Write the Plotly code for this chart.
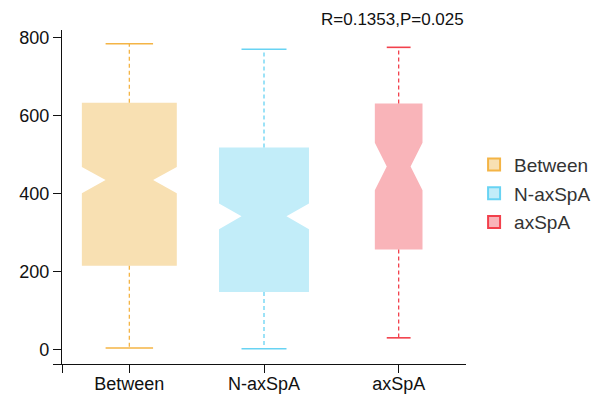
import plotly.graph_objects as go

# ---- data ----
categories = ["Between", "N-axSpA", "axSpA"]
q1 = [215, 148, 257]
median = [435, 342, 470]
q3 = [634, 519, 632]
lowerfence = [4, 2, 30]
upperfence = [785, 771, 776]
notchspan = [33.5, 33, 61]
box_widths = [0.705, 0.668, 0.354]
y_ticks = [0, 200, 400, 600, 800]
annotation_text = "R=0.1353,P=0.025"

fill_colors = ["#F8E0B2", "#C2EDF9", "#F9B4B9"]
line_colors = ["#F4B445", "#68D3F3", "#F2404C"]

y_lo, y_hi = -37.2, 820.5

fig = go.Figure()

for i, cat in enumerate(categories):
    fig.add_trace(go.Box(
        x=[i], q1=[q1[i]], median=[median[i]], q3=[q3[i]],
        lowerfence=[q1[i]], upperfence=[q3[i]],
        notchspan=[notchspan[i]], notched=True, notchwidth=0.25,
        width=box_widths[i], fillcolor=fill_colors[i],
        line=dict(width=0, color=fill_colors[i]),
        whiskerwidth=0, boxpoints=False, showlegend=False, hoverinfo="skip",
    ))

for i, cat in enumerate(categories):
    # dashed whiskers
    fig.add_trace(go.Scatter(
        x=[i, i, None, i, i],
        y=[q3[i], upperfence[i], None, q1[i], lowerfence[i]],
        mode="lines", line=dict(color=line_colors[i], width=1.3, dash="4px,3px"),
        showlegend=False, hoverinfo="skip",
    ))
    # caps
    hw = box_widths[i] / 4
    fig.add_trace(go.Scatter(
        x=[i - hw, i + hw, None, i - hw, i + hw],
        y=[upperfence[i], upperfence[i], None, lowerfence[i], lowerfence[i]],
        mode="lines", line=dict(color=line_colors[i], width=1.6),
        showlegend=False, hoverinfo="skip",
    ))

# legend entries
for i, cat in enumerate(categories):
    fig.add_trace(go.Scatter(
        x=[None], y=[None], mode="markers", name=cat, legendgroup=cat,
        marker=dict(symbol="square", size=14, color=fill_colors[i],
                    line=dict(color=line_colors[i], width=1.5)),
    ))

# page body has an 8px default margin, so the figure is sized to fit the window
fig.update_layout(
    width=593, height=387,
    margin=dict(l=54, r=135, t=22, b=31, autoexpand=False),
    paper_bgcolor="white", plot_bgcolor="white",
    font=dict(family="Liberation Sans, Arial, sans-serif", size=18, color="#111111"),
    legend=dict(x=1.02, xanchor="left", y=0.51, yanchor="middle",
                font=dict(size=19, color="#333333"),
                traceorder="grouped", tracegroupgap=1, itemsizing="constant"),
    annotations=[dict(text=annotation_text, x=1.0, xref="paper", xanchor="right",
                      y=1.03, yref="paper", yanchor="middle", showarrow=False,
                      font=dict(size=17, color="#111111"))],
)

fig.update_xaxes(
    range=[-0.5, 2.5], tickmode="array", automargin=False,
    tickvals=[-0.5, 0, 1, 2], ticktext=[""] + categories,
    ticks="outside", ticklen=8, tickwidth=1.3, tickcolor="#111111",
    ticklabelstandoff=-5,
    showline=True, linecolor="#111111", linewidth=1.3,
    showgrid=False, zeroline=False,
)
fig.update_yaxes(
    range=[y_lo, y_hi], tickmode="array", automargin=False,
    tickvals=[y_lo] + y_ticks, ticktext=[""] + [str(v) for v in y_ticks],
    ticks="outside", ticklen=8, tickwidth=1.3, tickcolor="#111111",
    showline=True, linecolor="#111111", linewidth=1.3,
    showgrid=False, zeroline=False,
)

fig.write_html("out.html")
